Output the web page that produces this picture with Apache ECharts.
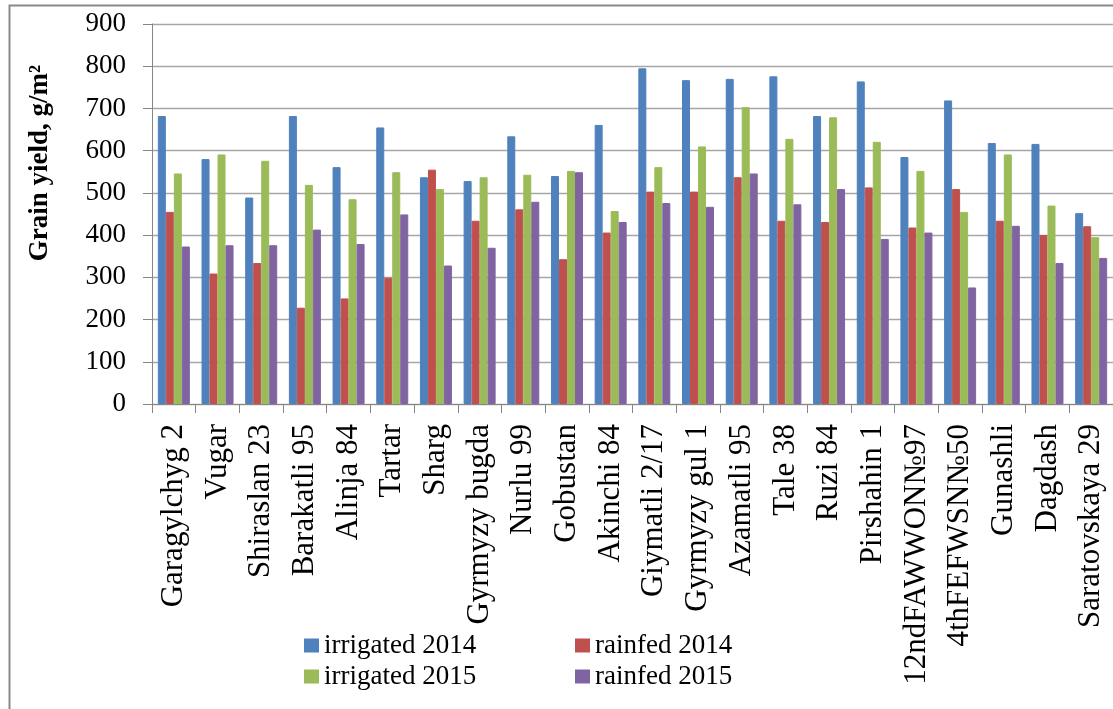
<!DOCTYPE html>
<html>
<head>
<meta charset="utf-8">
<script src="https://cdn.jsdelivr.net/npm/echarts@6/dist/echarts.min.js"></script>
<style>
  html, body { margin: 0; padding: 0; background: #ffffff; }
  #chart { width: 1113px; height: 709px; }
</style>
</head>
<body>
<div id="chart"></div>
<script>
// Wheat varieties
const categories = [
  'Garagylchyg 2', 'Vugar', 'Shiraslan 23', 'Barakatli 95', 'Alinja 84', 'Tartar',
  'Sharg', 'Gyrmyzy bugda', 'Nurlu 99', 'Gobustan', 'Akinchi 84', 'Giymatli 2/17',
  'Gyrmyzy gul 1', 'Azamatli 95', 'Tale 38', 'Ruzi 84', 'Pirshahin 1',
  '12ndFAWWON№97', '4thFEFWSN№50', 'Gunashli', 'Dagdash', 'Saratovskaya 29'
];

// Grain yield, g/m²
const irrigated2014 = [682, 580, 489, 682, 561, 655, 537, 528, 634, 540, 661, 795, 767, 770, 776, 682, 764, 585, 719, 618, 616, 452];
const rainfed2014   = [455, 309, 334, 228, 250, 299, 555, 434, 461, 343, 406, 503, 503, 537, 434, 431, 513, 418, 509, 434, 400, 421];
const irrigated2015 = [546, 591, 576, 519, 485, 549, 509, 537, 543, 552, 457, 561, 610, 703, 628, 679, 621, 552, 455, 591, 470, 395];
const rainfed2015   = [373, 376, 376, 413, 379, 449, 328, 370, 479, 549, 431, 476, 467, 546, 473, 509, 391, 406, 276, 422, 334, 346];

const yTicks = { min: 0, max: 900, interval: 100 };

const seriesNames = ['irrigated 2014', 'rainfed 2014', 'irrigated 2015', 'rainfed 2015'];
const seriesData = [irrigated2014, rainfed2014, irrigated2015, rainfed2015];
const colors = ['#4F81BD', '#C0504D', '#9BBB59', '#8064A2'];

const FONT = '"Liberation Serif", "Times New Roman", serif';

const chart = echarts.init(document.getElementById('chart'), null, { renderer: 'canvas' });

// one legend component per entry so the two rows line up in two columns
const legendPos = [
  { left: 304, top: 632 },
  { left: 575, top: 632 },
  { left: 304, top: 663 },
  { left: 575, top: 663 }
];

const option = {
  backgroundColor: '#ffffff',
  animation: false,
  color: colors,
  // 22 bands of 44px; the plot runs slightly past the right edge of the canvas
  grid: { left: 152, width: 968, top: 24, bottom: 305, containLabel: false },
  legend: seriesNames.map((name, i) => ({
    data: [name],
    left: legendPos[i].left,
    top: legendPos[i].top,
    icon: 'rect',
    itemWidth: 15,
    itemHeight: 14,
    itemGap: 0,
    itemTextGap: 4,
    padding: 0,
    selectedMode: false,
    itemStyle: { borderWidth: 0 },
    textStyle: { fontFamily: FONT, fontSize: 27, color: '#000000' }
  })),
  xAxis: {
    type: 'category',
    data: categories,
    boundaryGap: true,
    axisLine: { show: true, lineStyle: { color: '#868686', width: 1 } },
    axisTick: { show: true, alignWithLabel: false, length: 9, lineStyle: { color: '#868686' } },
    axisLabel: {
      interval: 0,
      rotate: 90,
      margin: 20,
      fontFamily: FONT,
      fontSize: 31,
      color: '#000000'
    },
    splitLine: { show: false }
  },
  yAxis: {
    type: 'value',
    min: yTicks.min,
    max: yTicks.max,
    interval: yTicks.interval,
    axisLine: { show: true, lineStyle: { color: '#868686', width: 1 } },
    axisTick: { show: true, length: 9, lineStyle: { color: '#868686' } },
    axisLabel: {
      margin: 26,
      fontFamily: FONT,
      fontSize: 27,
      color: '#000000'
    },
    splitLine: { show: true, lineStyle: { color: '#a6a6a6', width: 1.3 } }
  },
  // a same-colour outline closes any hairline seam between neighbouring bars
  series: seriesNames.map((name, i) => ({
    name: name,
    type: 'bar',
    data: seriesData[i],
    barGap: '0%',
    barWidth: 8,
    itemStyle: { color: colors[i], borderWidth: 1, borderColor: colors[i] }
  })),
  graphic: [
    {
      type: 'rect',
      silent: true,
      shape: { x: 9.5, y: 5.5, width: 1200, height: 800 },
      style: { fill: 'none', stroke: '#8a8a8a', lineWidth: 2 }
    },
    {
      type: 'text',
      silent: true,
      x: 40,
      y: 163,
      rotation: Math.PI / 2,
      style: {
        text: 'Grain yield, g/m²',
        fontFamily: FONT,
        fontSize: 27,
        fontWeight: 'bold',
        fill: '#000000',
        align: 'center',
        verticalAlign: 'middle'
      }
    }
  ]
};

chart.setOption(option);
</script>
</body>
</html>
